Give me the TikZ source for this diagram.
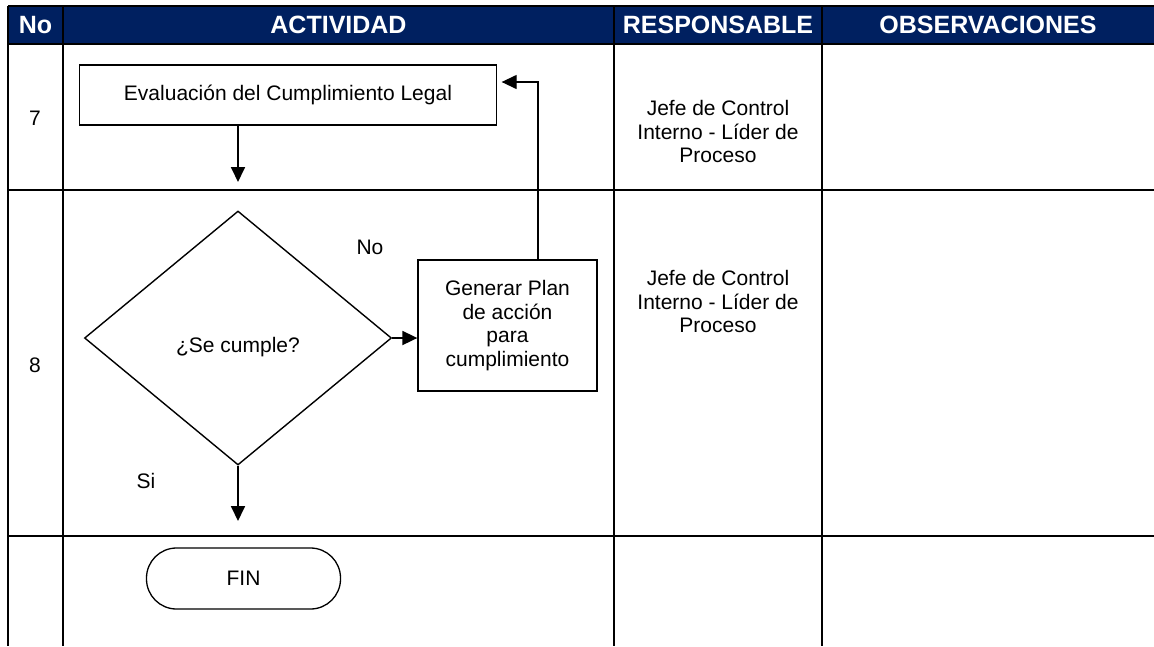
\documentclass[tikz,border=0pt]{standalone}
\usepackage{fontspec}
\setmainfont{Liberation Sans}
\usetikzlibrary{shapes.geometric,arrows.meta}
\definecolor{navy}{RGB}{0,32,96}
\begin{document}
\begin{tikzpicture}[x=1pt,y=-1pt,
  every node/.style={font=\fontsize{21}{23.5}\selectfont},
  head/.style={text=white,font=\fontsize{25}{28}\selectfont\bfseries},
  grid/.style={line width=2pt,black},
  boxst/.style={draw,line width=1.3pt,rectangle,inner sep=0pt},
  diast/.style={draw,line width=1.4pt,diamond,inner sep=0pt,minimum width=307pt,minimum height=254pt},
  termst/.style={draw,line width=1.3pt,rectangle,rounded corners=30pt,minimum width=194pt,minimum height=61pt},
  arr/.style={line width=1.8pt,-{Triangle[length=15pt,width=14pt]}},
  thinarr/.style={line width=1.3pt,-{Triangle[length=15pt,width=14pt]}},
  txt/.style={align=center,inner sep=0pt}]
\useasboundingbox (0,0) rectangle (1154,646);
% header
\fill[navy] (8,6) rectangle (1154,44);
\node[head] (hno) at (35.5,25) {No};
\node[head] (hact) at (338.5,25) {ACTIVIDAD};
\node[head] (hres) at (718,25) {RESPONSABLE};
\node[head] (hobs) at (988,25) {OBSERVACIONES};
% grid
\draw[grid] (8,6) -- (1154,6);
\draw[grid] (8,44) -- (1154,44);
\draw[grid] (8,190) -- (1154,190);
\draw[grid] (8,536) -- (1154,536);
\draw[grid] (8,6) -- (8,646);
\draw[grid] (63,6) -- (63,646);
\draw[grid] (614,6) -- (614,646);
\draw[grid] (822,6) -- (822,646);
% row numbers
\node[txt] (n7) at (35,118) {7};
\node[txt] (n8) at (35,365) {8};
% responsables
\node[txt] (r7) at (718,131.5) {Jefe de Control\\Interno - Líder de\\Proceso};
\node[txt] (r8) at (718,301.5) {Jefe de Control\\Interno - Líder de\\Proceso};
% flowchart
\node[boxst,minimum width=417pt,minimum height=60pt] (eval) at (288,95) {Evaluación del Cumplimiento Legal};
\node[diast] (dia) at (238,338) {};
\node[txt] (diat) at (238,347) {¿Se cumple?};
\node[boxst,minimum width=179pt,minimum height=131pt,align=center] (gen) at (507.5,325.5) {Generar Plan\\de acción\\para\\cumplimiento};
\node[termst] (fin) at (243.5,578.5) {FIN};
\node[txt] (lno) at (370,247) {No};
\node[txt] (lsi) at (146,481) {Si};
\coordinate (c1) at (238,182);
\coordinate (c2) at (238,521);
\draw[arr] (eval.south -| dia.north) -- (c1);
\draw[arr] (dia.south) -- (c2);
\draw[arr] (dia.east) -- (dia.east -| gen.west);
\draw[thinarr,shorten >=4.5pt] ([xshift=30.5pt]gen.north) |- ([yshift=13pt]eval.east);
\end{tikzpicture}
\end{document}
